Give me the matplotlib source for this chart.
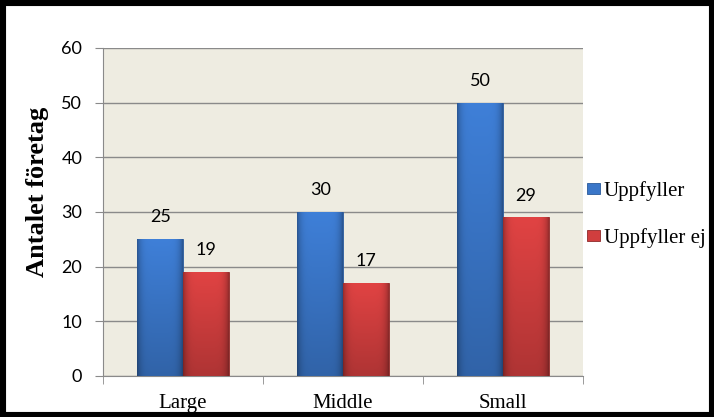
import numpy as np
import matplotlib
matplotlib.use("Agg")
import matplotlib.pyplot as plt
from matplotlib.colors import to_rgb
from matplotlib.patches import Rectangle

categories = ["Large", "Middle", "Small"]
uppfyller = [25, 30, 50]
uppfyller_ej = [19, 17, 29]
series_names = ["Uppfyller", "Uppfyller ej"]
yticks = [0, 10, 20, 30, 40, 50, 60]

BLUE = "#3a76c8"
RED = "#d03e3e"
BG = "#eeece1"
GRID = "#8a8a8a"


def shade_bar(ax, bar, base):
    x, y = bar.get_xy()
    w, h = bar.get_width(), bar.get_height()
    rgb = np.array(to_rgb(base))
    v = np.linspace(1.08, 0.84, 80)[:, None]
    hz = 1 - 0.30 * np.abs(np.linspace(-1, 1, 40)) ** 6
    img = np.clip(rgb[None, None, :] * (v * hz)[:, :, None], 0, 1)
    im = ax.imshow(img, extent=(x, x + w, y, y + h), aspect="auto",
                   origin="upper", zorder=bar.get_zorder() + 0.1)
    im.set_clip_path(bar)


fig = plt.figure(figsize=(7.14, 4.17), dpi=100)
ax = fig.add_axes([103 / 714, 41 / 417, 480 / 714, 328 / 417])
ax.set_facecolor(BG)

x = np.arange(len(categories))
w = 0.285
b1 = ax.bar(x - w / 2, uppfyller, w, color=BLUE, edgecolor="#2a5a9a",
            linewidth=0.6, zorder=3)
b2 = ax.bar(x + w / 2, uppfyller_ej, w, color=RED, edgecolor="#8e2a2a",
            linewidth=0.6, zorder=3)
for bars, col in ((b1, BLUE), (b2, RED)):
    for bar in bars:
        shade_bar(ax, bar, col)
        ax.annotate(f"{bar.get_height():.0f}",
                    (bar.get_x() + bar.get_width() / 2, bar.get_height()),
                    xytext=(0, 10), textcoords="offset points",
                    ha="center", va="bottom", fontsize=13, family="Lato")

ax.set_xlim(-0.5, len(categories) - 0.5)
ax.set_ylim(0, 60)
ax.set_yticks(yticks)
ax.set_xticks(x)
ax.set_xticklabels(categories, family="Liberation Serif", fontsize=15)
ax.set_xticks(np.arange(len(categories) + 1) - 0.5, minor=True)
ax.tick_params(axis="x", which="major", length=0, pad=13)
ax.tick_params(axis="x", which="minor", length=6, color=GRID)
ax.tick_params(axis="y", length=6, color=GRID, pad=9, labelsize=13)
for lab in ax.get_yticklabels():
    lab.set_family("Lato")
ax.grid(axis="y", color=GRID, linewidth=1.0, zorder=0)
ax.set_axisbelow(True)
for s in ("top", "right"):
    ax.spines[s].set_visible(False)
for s in ("left", "bottom"):
    ax.spines[s].set_color(GRID)

fig.text(38 / 714, 0.54, "Antalet företag", rotation=90, ha="center",
         va="center", family="Liberation Serif", fontweight="bold", fontsize=19)

handles = [Rectangle((0, 0), 1, 1, facecolor=BLUE, edgecolor="#2a5a9a", linewidth=0.6),
           Rectangle((0, 0), 1, 1, facecolor=RED, edgecolor="#8e2a2a", linewidth=0.6)]
fig.legend(handles, series_names, loc="center left",
           bbox_to_anchor=(587 / 714, 0.485), bbox_transform=fig.transFigure,
           frameon=False, prop={"family": "Liberation Serif", "size": 15},
           handlelength=0.6, handleheight=0.45, handletextpad=0.2,
           labelspacing=1.3, borderpad=0, borderaxespad=0)

fig.add_artist(Rectangle((0, 0), 1, 1, transform=fig.transFigure, fill=False,
                         edgecolor="black", linewidth=8, zorder=10))

fig.savefig("out.png", dpi=100, facecolor="white")
